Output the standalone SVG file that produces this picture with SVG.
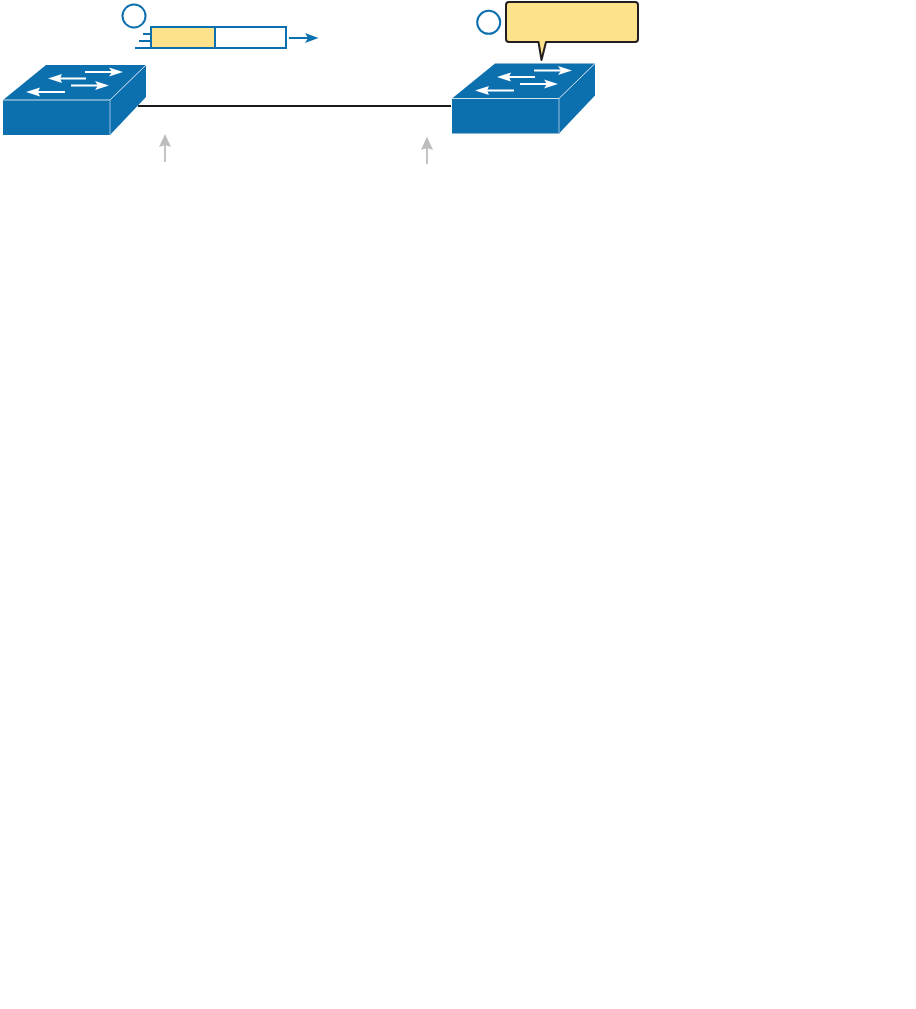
<svg xmlns="http://www.w3.org/2000/svg" width="916" height="1009" viewBox="0 0 916 1009">
<style>
.body{fill:#0c6fae}
.edge{fill:none;stroke:#cfe2ef;stroke-width:1}
.edge2{fill:none;stroke:#7fb2d4;stroke-width:1.2}
.wa{fill:none;stroke:#fff;stroke-width:1.8}
.wh{fill:#fff}
.blue{fill:none;stroke:#0c6fae;stroke-width:2}
.num{fill:#fff;stroke:#0c6fae;stroke-width:2}
.grey{stroke:#bdbdbd;stroke-width:1.8;fill:none}
.greyh{fill:#bdbdbd}
</style>
<defs>
<g id="sw">
<path class="body" d="M0 35L43 0H143L107 35Z"/>
<rect class="body" x="0" y="35" width="107" height="35"/>
<path class="body" d="M107 35L143 0V32L107 70Z"/>
<path class="edge" d="M0 35H107L143 0"/>
<path class="edge2" d="M107 35V70"/>
<path class="wa" d="M82 7H112M56 13.500H83M68 20.500H98M32 27H62"/>
<path class="wh" d="M120 7L106 2.500L109 7L106 11.500ZM45 13.500L59 9L57 13.500L59 18ZM106 20.500L92 16L95 20.500L92 25ZM23 27L37 22.500L35 27L37 31.500Z"/>
</g>
</defs>
<g id="connectors">
<path d="M138 106H451" fill="none" stroke="#1a1a1a" stroke-width="2"/>
<path class="grey" d="M165 162V143"/>
<path class="greyh" d="M165 134L159 147L165 145L171 147Z"/>
<path class="grey" d="M427 164V146"/>
<path class="greyh" d="M427 136.500L421 150L427 148L433 150Z"/>
<path class="blue" d="M289 38H310"/>
<path d="M318.500 38L305 33L308 38L305 43Z" fill="#0c6fae"/>
</g>
<g id="switch-left"><use href="#sw" x="3" y="65"/></g>
<g id="switch-right"><use href="#sw" x="452" y="63.500"/></g>
<g id="packet">
<rect x="151" y="27" width="64" height="21" fill="#fde28c"/>
<rect x="151" y="27" width="135" height="21" class="blue"/>
<path class="blue" d="M215 27V48M143 34H151M139 41H151M135 48H151"/>
</g>
<g id="step-1"><circle class="num" cx="134" cy="16" r="11.500"/></g>
<g id="step-2"><circle class="num" cx="488.700" cy="22.300" r="11.500"/></g>
<g id="callout">
<path d="M509 2H635Q638 2 638 5V39Q638 42 635 42H546L541.500 60L538.500 42H509Q506 42 506 39V5Q506 2 509 2Z" fill="#fde28c" stroke="#231f20" stroke-width="2" stroke-linejoin="round"/>
</g>
</svg>
